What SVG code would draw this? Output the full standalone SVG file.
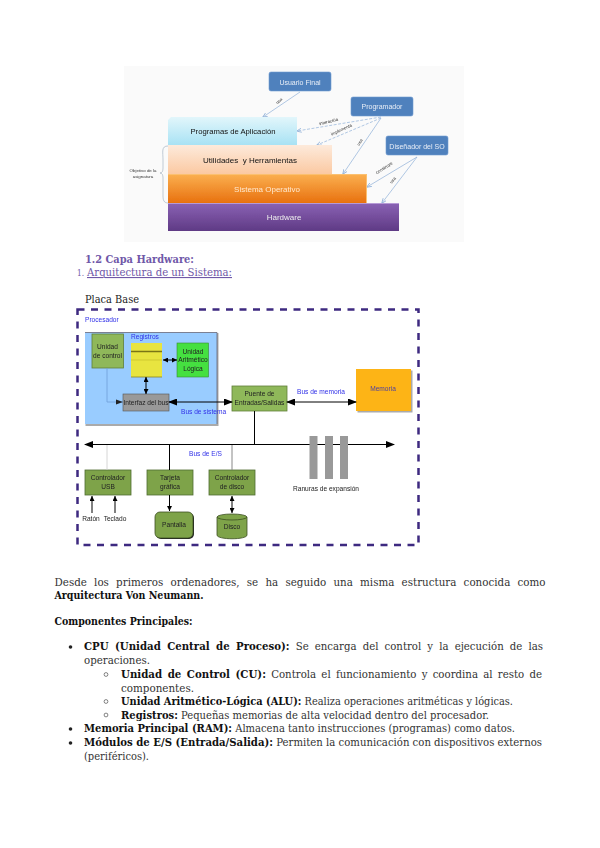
<svg xmlns="http://www.w3.org/2000/svg" width="600" height="848" viewBox="0 0 600 848">
<defs>
<filter id="soft" x="-5%" y="-5%" width="110%" height="110%"><feGaussianBlur stdDeviation="0.35"/></filter>
<filter id="soft2" x="-5%" y="-5%" width="110%" height="110%"><feGaussianBlur stdDeviation="0.25"/></filter>
<linearGradient id="gApp" x1="0" y1="0" x2="0" y2="1"><stop offset="0" stop-color="#e2f6fb"/><stop offset="1" stop-color="#a8e2f4"/></linearGradient>
<linearGradient id="gUtil" x1="0" y1="0" x2="0" y2="1"><stop offset="0" stop-color="#fdeadb"/><stop offset="1" stop-color="#fbc9a2"/></linearGradient>
<linearGradient id="gSO" x1="0" y1="0" x2="0" y2="1"><stop offset="0" stop-color="#fbb050"/><stop offset="1" stop-color="#e8710f"/></linearGradient>
<linearGradient id="gHw" x1="0" y1="0" x2="0" y2="1"><stop offset="0" stop-color="#8a62b4"/><stop offset="1" stop-color="#5f3a85"/></linearGradient>
<marker id="a" markerWidth="9" markerHeight="7" refX="8" refY="3.5" orient="auto-start-reverse" markerUnits="userSpaceOnUse"><path d="M0 0L9 3.5L0 7z" fill="#000"/></marker>
<marker id="b" markerWidth="5" markerHeight="5" refX="5" refY="2.5" orient="auto-start-reverse" markerUnits="userSpaceOnUse"><path d="M0 0L5 2.5L0 5z" fill="#000"/></marker>
<marker id="c" markerWidth="5" markerHeight="5" refX="4.5" refY="2.5" orient="auto" markerUnits="userSpaceOnUse"><path d="M0 0.5L5 2.5L0 4.5" fill="none" stroke="#8fb0d8" stroke-width="0.8"/></marker>
</defs>
<style>
text{font-family:"Liberation Sans",Arial,sans-serif}
.doc{font-family:"DejaVu Serif","Liberation Serif",serif;font-size:10.5px;fill:#333}
.b{font-weight:700;fill:#111}
.actor{fill:#4f81bd;stroke:#6f9bd0;stroke-width:.6}
.acttxt{font-size:7px;fill:#e8eef7;text-anchor:middle}
.lay{font-size:8px;text-anchor:middle}
.tiny{font-size:4.4px;fill:#333;text-anchor:middle}
.top{stroke:#8fb0d8;stroke-width:.7;fill:none;marker-end:url(#c)}
.dash{stroke-dasharray:3 1.5}
.g{fill:#7ea34a;stroke:#4f6b30;stroke-width:.8}
.g2{fill:#8fb85a;stroke:#5f7f3a;stroke-width:.8}
.lbl{font-size:6.6px;fill:#222;text-anchor:middle}
.blue{font-size:6.6px;fill:#3030e8}
.w{stroke:#000;stroke-width:1;fill:none}
.bar{fill:#999}
</style>
<rect x="124" y="66" width="340" height="176" fill="#fafafa"/>
<g id="capas" filter="url(#soft)">
<g id="connectors-top">
<path class="top" d="M300 92L263 117"/>
<path class="top dash" d="M381 117L297 131"/>
<path class="top dash" d="M381 118L317 145"/>
<path class="top" d="M381 118L343 174"/>
<path class="top" d="M417 157L367 187"/>
<path class="top" d="M417 157L382 203"/>
<path d="M168 146C161 146 163 152 163 160L163 168Q163 173 160 173Q163 173 163 178L163 196C163 202 165 203 169 203" fill="none" stroke="#9ab" stroke-width=".6"/>
<text class="tiny" transform="translate(280 102) rotate(-38)">usa</text>
<text class="tiny" transform="translate(329 123) rotate(-14)">interactúa</text>
<text class="tiny" transform="translate(342 131) rotate(-25)">implementa</text>
<text class="tiny" transform="translate(361 143) rotate(-58)">usa</text>
<text class="tiny" transform="translate(385 169) rotate(-33)">construye</text>
<text class="tiny" transform="translate(394 181) rotate(-53)">usa</text>
</g>
<g id="usuario"><rect class="actor" x="269" y="72" width="62" height="19" rx="2"/><text class="acttxt" x="300" y="84.5">Usuario Final</text></g>
<g id="programador"><rect class="actor" x="351" y="97" width="62" height="19" rx="2"/><text class="acttxt" x="382" y="109">Programador</text></g>
<g id="disenador"><rect class="actor" x="386" y="136" width="62" height="19" rx="2"/><text class="acttxt" x="417" y="148.5">Diseñador del SO</text></g>
<g id="aplicacion"><path d="M171 117H297V145H168V120z" fill="url(#gApp)"/><text class="lay" x="233" y="134" fill="#111" textLength="85" lengthAdjust="spacingAndGlyphs">Programas de Aplicación</text></g>
<g id="utilidades"><path d="M168 145H332V174H168z" fill="url(#gUtil)"/><text class="lay" x="250" y="163" fill="#111" xml:space="preserve">Utilidades  y Herramientas</text></g>
<g id="so"><path d="M168 174H367V203H168z" fill="url(#gSO)"/><path d="M168 174.500H367M366.500 174V203" stroke="#fbc070" stroke-width="1" fill="none"/><text class="lay" x="267" y="192" fill="#ffe9d0">Sistema Operativo</text></g>
<g id="hardware"><path d="M168 203H399V231H168z" fill="url(#gHw)"/><path d="M168 203.500H399" stroke="#b69ad6" stroke-width="1"/><text class="lay" x="284" y="220" fill="#eee">Hardware</text></g>
<g id="objetivo"><text class="tiny" x="143" y="172">Objetivo de la</text><text class="tiny" x="143" y="177.500">asignatura</text></g>
</g>
<g id="doc-titulos">
<text x="85" y="263" style="font-family:'DejaVu Serif',serif;font-size:11.5px;font-weight:700;fill:#7058a8" textLength="109" lengthAdjust="spacingAndGlyphs">1.2 Capa Hardware:</text>
<text x="77" y="276" style="font-family:'DejaVu Serif',serif;font-size:10px;fill:#7058a8" textLength="7" lengthAdjust="spacingAndGlyphs">1.</text>
<text x="87" y="276" style="font-family:'DejaVu Serif',serif;font-size:11px;fill:#7058a8" textLength="145" lengthAdjust="spacingAndGlyphs" text-decoration="underline">Arquitectura de un Sistema:</text>
<text x="85" y="303" style="font-family:'DejaVu Serif',serif;font-size:11px;fill:#222" textLength="54" lengthAdjust="spacingAndGlyphs">Placa Base</text>
</g>
<g id="placa" filter="url(#soft2)">
<rect x="77.500" y="309.500" width="341" height="235.500" fill="none" stroke="#3d2a80" stroke-width="2.500" stroke-dasharray="7 6.500"/>
<text class="blue" x="85" y="322">Procesador</text>
<g id="procesador"><rect x="85.500" y="333" width="133" height="93" fill="#aaa"/><rect x="85" y="332.500" width="132" height="91.500" fill="#99ccff"/><path d="M85 332.500H217V424" fill="none" stroke="#667" stroke-width=".8"/></g>
<g id="unidad-control"><rect class="g2" x="92" y="334" width="31.500" height="34"/><text class="lbl" x="107.500" y="349">Unidad</text><text class="lbl" x="107.500" y="358">de control</text></g>
<text class="blue" x="131" y="339">Registros</text>
<g id="registros"><rect x="131" y="343" width="31" height="34" fill="#e8e440"/><path d="M131 351.500H162" stroke="#7a7418" stroke-width="1.500"/><path d="M131 360H162" stroke="#cfc930" stroke-width="1"/><path d="M131 377H162" stroke="#8a8420" stroke-width=".8"/></g>
<g id="alu"><rect x="177" y="343" width="31.500" height="34" fill="#44e040" stroke="#3a8a30" stroke-width=".6"/><text class="lbl" x="193" y="354">Unidad</text><text class="lbl" x="193" y="362">Aritmético</text><text class="lbl" x="193" y="371">Lógica</text></g>
<g id="interfaz"><rect x="123" y="394" width="46" height="17" fill="#999" stroke="#555" stroke-width=".6"/><text class="lbl" x="146" y="405">Interfaz del bus</text></g>
<text class="blue" x="181" y="414">Bus de sistema</text>
<g id="puente"><rect class="g2" x="232" y="386" width="55" height="25"/><text class="lbl" x="259.500" y="396">Puente de</text><text class="lbl" x="259.500" y="405">Entradas/Salidas</text></g>
<text class="blue" x="297" y="394">Bus de memoria</text>
<g id="memoria"><rect x="357.500" y="370.500" width="55" height="42" fill="#aaa"/><rect x="356" y="369" width="55" height="42" fill="#fdb414"/><text class="lbl" x="383" y="391" style="fill:#5040a0">Memoria</text></g>
<text class="blue" x="189" y="456">Bus de E/S</text>
<g id="usb"><rect class="g" x="85" y="470" width="46" height="25"/><text class="lbl" x="108" y="480">Controlador</text><text class="lbl" x="108" y="489">USB</text></g>
<g id="grafica"><rect class="g" x="147" y="470" width="46" height="25"/><text class="lbl" x="170" y="480">Tarjeta</text><text class="lbl" x="170" y="489">gráfica</text></g>
<g id="ctrl-disco"><rect class="g" x="209" y="470" width="46" height="25"/><text class="lbl" x="232" y="480">Controlador</text><text class="lbl" x="232" y="489">de disco</text></g>
<g id="pantalla"><rect x="156" y="513" width="38" height="26" rx="5" fill="#222"/><rect x="155" y="512" width="38" height="26" rx="5" fill="#7ea34a" stroke="#3c4f22" stroke-width=".8"/><text class="lbl" x="174" y="527">Pantalla</text></g>
<g id="disco"><path d="M217 517V535C217 540 247 540 247 535V517" fill="#7ea34a" stroke="#3c4f22" stroke-width=".8"/><ellipse cx="232" cy="517" rx="15" ry="3" fill="#7ea34a" stroke="#3c4f22" stroke-width=".8"/><text class="lbl" x="232" y="529">Disco</text></g>
<text class="lbl" x="91" y="521">Ratón</text><text class="lbl" x="115" y="521">Teclado</text>
<g id="connectors">
<path d="M107 368V402H123" fill="none" stroke="#6f9fd8" stroke-width=".8"/><path d="M116 399.500L123 402L116 404.500z" fill="#222"/>
<path class="w" d="M163 360H177" marker-start="url(#b)" marker-end="url(#b)"/>
<path class="w" d="M146 377V394" marker-start="url(#b)" marker-end="url(#b)"/>
<path class="w" d="M169 402H232" marker-start="url(#a)" marker-end="url(#a)"/>
<path class="w" d="M287 402H356" stroke-width=".8" marker-start="url(#a)" marker-end="url(#a)"/>
<path class="w" d="M254.500 411V444" stroke-width="1.500"/>
<path class="w" d="M85 444.500H394" marker-start="url(#a)" marker-end="url(#a)"/>
<path d="M107 445V470" stroke="#ccc" stroke-width=".8"/>
<path class="w" d="M169.500 445V470"/>
<path d="M232 445V470" stroke="#888" stroke-width="1"/>
<path class="w" d="M169.500 495V511" marker-end="url(#b)"/>
<path class="w" d="M232 496V513" marker-start="url(#b)" marker-end="url(#b)"/>
<path class="w" d="M92 513V496" stroke-width=".7" marker-end="url(#b)"/>
<path class="w" d="M115 513V496" stroke-width=".7" marker-end="url(#b)"/>
</g>
<g id="ranuras"><rect class="bar" x="309.500" y="436" width="8" height="43"/><rect class="bar" x="325" y="436" width="8" height="43"/><rect class="bar" x="340" y="436" width="8" height="43"/><text class="lbl" x="326" y="491">Ranuras de expansión</text></g>
</g>
<g id="texto">
<text class="doc" x="54.500" y="586" textLength="491" lengthAdjust="spacingAndGlyphs" word-spacing="4">Desde los primeros ordenadores, se ha seguido una misma estructura conocida como</text>
<text class="doc b" x="54.500" y="599" textLength="149" lengthAdjust="spacingAndGlyphs">Arquitectura Von Neumann.</text>
<text class="doc b" x="54.500" y="625" textLength="138" lengthAdjust="spacingAndGlyphs">Componentes Principales:</text>
<circle cx="70.500" cy="647" r="1.800" fill="#222"/>
<text class="doc" x="84" y="650" textLength="459" lengthAdjust="spacingAndGlyphs" word-spacing="3"><tspan class="b">CPU (Unidad Central de Proceso):</tspan> Se encarga del control y la ejecución de las</text>
<text class="doc" x="84" y="664" textLength="66" lengthAdjust="spacingAndGlyphs">operaciones.</text>
<circle cx="106" cy="674.500" r="1.900" fill="none" stroke="#333" stroke-width=".6"/>
<text class="doc" x="121" y="678" textLength="421" lengthAdjust="spacingAndGlyphs" word-spacing="2"><tspan class="b">Unidad de Control (CU):</tspan> Controla el funcionamiento y coordina al resto de</text>
<text class="doc" x="121" y="692" textLength="73" lengthAdjust="spacingAndGlyphs">componentes.</text>
<circle cx="106" cy="701.500" r="1.900" fill="none" stroke="#333" stroke-width=".6"/>
<text class="doc" x="121" y="705" textLength="392" lengthAdjust="spacingAndGlyphs"><tspan class="b">Unidad Aritmético-Lógica (ALU):</tspan> Realiza operaciones aritméticas y lógicas.</text>
<circle cx="106" cy="715" r="1.900" fill="none" stroke="#333" stroke-width=".6"/>
<text class="doc" x="121" y="719" textLength="368" lengthAdjust="spacingAndGlyphs"><tspan class="b">Registros:</tspan> Pequeñas memorias de alta velocidad dentro del procesador.</text>
<circle cx="70.500" cy="729" r="1.800" fill="#222"/>
<text class="doc" x="84" y="732" textLength="431" lengthAdjust="spacingAndGlyphs"><tspan class="b">Memoria Principal (RAM):</tspan> Almacena tanto instrucciones (programas) como datos.</text>
<circle cx="70.500" cy="743" r="1.800" fill="#222"/>
<text class="doc" x="84" y="746" textLength="458" lengthAdjust="spacingAndGlyphs"><tspan class="b">Módulos de E/S (Entrada/Salida):</tspan> Permiten la comunicación con dispositivos externos</text>
<text class="doc" x="84" y="760" textLength="65" lengthAdjust="spacingAndGlyphs">(periféricos).</text>
</g>
</svg>
